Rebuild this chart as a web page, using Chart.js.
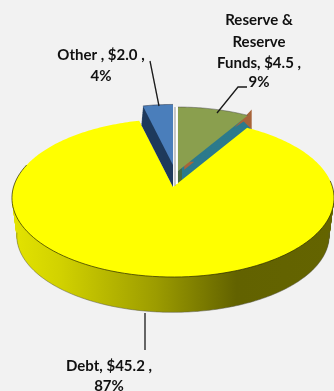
<!DOCTYPE html>
<html>
<head>
<meta charset="utf-8">
<style>
  html, body { margin: 0; padding: 0; background: #f2f2f2; }
  canvas { display: block; }
</style>
<script src="https://cdn.jsdelivr.net/npm/chart.js@4/dist/chart.umd.min.js"></script>
</head>
<body>
<canvas id="fundingChart" width="334" height="391"></canvas>
<script>
const categories = ["Reserve & Reserve Funds", "Debt", "Other"];
const amounts = [4.5, 45.2, 2.0];
const sliceColors = ["#8a9f4e", "#ffff00", "#4a7ebb"];
const wallColors = ["#2c7a8c", null, "#1f3a5c"];
const labelLines = [
    ["Reserve &", "Reserve", "Funds, $4.5 ,", "9%"],
    ["Debt, $45.2 ,", "87%"],
    ["Other , $2.0 ,", "4%"],
];

// slice placement on the tilted disc: apex, scale, and how far the wall runs
const placements = [
    { x: 178, y: 171, s: 0.94, dx: 4, dy: 14, ds: 0.0 },
    { x: 173, y: 187, s: 1.0, dx: 0, dy: 38, ds: -0.03 },
    { x: 173, y: 165, s: 0.89, dx: 0, dy: 22, ds: 0.05 },
];
const labelSpots = [
    { x: 259, y: [20, 42, 63, 82] },
    { x: 109, y: [366, 386] },
    { x: 101, y: [55, 76] },
];
const leaders = [
    [[247, 87], [238, 87], [217, 113]],
    [[145, 313], [145, 350]],
    [[150, 61], [159, 106]],
];

// perspective of the disc
const DISC_A = 159.5;
const DISC_B = 77.5;
const DISC_K = 0.139;

function project(angle, r, p) {
    const u = r * Math.cos(angle);
    const v = r * Math.sin(angle);
    const w = 1 - DISC_K * v;
    return {
        x: p.x + (DISC_A * p.s * u) / w,
        y: p.y + (DISC_B * p.s * v) / w,
    };
}

function tracePath(ctx, start, end, p) {
    const steps = Math.ceil(((end - start) * 180) / Math.PI);
    ctx.beginPath();
    ctx.moveTo(p.x, p.y);
    for (let i = 0; i <= steps; i++) {
        const pt = project(start + ((end - start) * i) / steps, 1, p);
        ctx.lineTo(pt.x, pt.y);
    }
    ctx.closePath();
}

function wallGradient(ctx) {
    const g = ctx.createLinearGradient(11, 0, 333, 0);
    g.addColorStop(0, "#e4e400");
    g.addColorStop(0.15, "#d2d200");
    g.addColorStop(0.45, "#9c9c00");
    g.addColorStop(0.7, "#626200");
    g.addColorStop(1, "#646400");
    return g;
}

function strokeArc(ctx, start, end, p, color) {
    const steps = 90;
    ctx.beginPath();
    for (let i = 0; i <= steps; i++) {
        const pt = project(start + ((end - start) * i) / steps, 1, p);
        if (i === 0) ctx.moveTo(pt.x, pt.y);
        else ctx.lineTo(pt.x, pt.y);
    }
    ctx.strokeStyle = color;
    ctx.lineWidth = 1;
    ctx.stroke();
}

function fillPoly(ctx, color, pts) {
    ctx.fillStyle = color;
    ctx.beginPath();
    pts.forEach((pt, i) => {
        if (i === 0) ctx.moveTo(pt.x, pt.y);
        else ctx.lineTo(pt.x, pt.y);
    });
    ctx.closePath();
    ctx.fill();
}

const pie3d = {
    id: "pie3d",
    beforeDatasetDraw(chart) {
        const ctx = chart.ctx;
        const arcs = chart.getDatasetMeta(0).data;
        ctx.save();

        // green goes first so the yellow edge trims its wall, blue sits in the notch
        [0, 1, 2].forEach((i) => {
            const arc = arcs[i];
            const place = placements[i];
            const fill = wallColors[i] || wallGradient(ctx);

            for (let d = place.dy; d > 0; d--) {
                const t = d / place.dy;
                const layer = {
                    x: place.x + place.dx * t,
                    y: place.y + d,
                    s: place.s + place.ds * t,
                };
                tracePath(ctx, arc.startAngle, arc.endAngle, layer);
                ctx.fillStyle = fill;
                ctx.fill();
            }

            if (i === 0) {
                // brown strips on the cut side of the green slice
                const cut = arc.endAngle;
                const outer = project(cut, 1, place);
                const mid = project(cut, 0.78, place);
                const inner = project(cut, 0.2, place);
                fillPoly(ctx, "#a8643a", [
                    { x: mid.x, y: mid.y + 2 },
                    { x: outer.x + 4, y: outer.y - 6 },
                    { x: outer.x + 4, y: outer.y + 14 },
                    { x: outer.x - 4, y: outer.y + 6 },
                    { x: outer.x - 13, y: outer.y + 12 },
                ]);
                fillPoly(ctx, "#a8643a", [
                    { x: inner.x + 1, y: inner.y + 3 },
                    { x: inner.x - 9, y: inner.y + 3 },
                    { x: inner.x - 9, y: inner.y + 11 },
                ]);
                fillPoly(ctx, "#4a6a40", [
                    { x: place.x, y: place.y },
                    { x: place.x + 4, y: place.y - 3 },
                    { x: place.x + 4, y: place.y + 12 },
                    { x: place.x, y: place.y + 15 },
                ]);
            }

            tracePath(ctx, arc.startAngle, arc.endAngle, place);
            ctx.fillStyle = sliceColors[i];
            ctx.fill();
        });

        // rim lines: front of the big slice and the far edge of the small ones
        const debt = placements[1];
        const debtBottom = {
            x: debt.x,
            y: debt.y + debt.dy,
            s: debt.s + debt.ds,
        };
        strokeArc(ctx, -0.08, Math.PI + 0.3, debt, "rgba(40,40,0,0.7)");
        strokeArc(ctx, 0.1, Math.PI - 0.1, debtBottom, "rgba(90,90,80,0.5)");
        strokeArc(ctx, arcs[0].startAngle, arcs[0].endAngle, placements[0], "rgba(70,70,70,0.5)");
        strokeArc(ctx, arcs[2].startAngle, arcs[2].endAngle, placements[2], "rgba(40,50,70,0.6)");

        // pale sliver in the gap between blue and green
        const green = placements[0];
        const top = project(arcs[0].startAngle, 1, green);
        ctx.strokeStyle = "#ffffff";
        ctx.lineWidth = 2;
        ctx.beginPath();
        ctx.moveTo(top.x - 1.5, top.y);
        ctx.lineTo(green.x - 1.5, green.y + 13);
        ctx.stroke();
        ctx.strokeStyle = "#9a9a9a";
        ctx.lineWidth = 1;
        ctx.beginPath();
        ctx.moveTo(top.x - 3, top.y);
        ctx.lineTo(green.x - 3, green.y + 15);
        ctx.stroke();

        ctx.restore();
        return false;
    },
    afterDatasetsDraw(chart) {
        const ctx = chart.ctx;
        ctx.save();

        ctx.strokeStyle = "#1a1a1a";
        ctx.lineWidth = 1.3;
        leaders.forEach((line) => {
            ctx.beginPath();
            line.forEach(([x, y], i) => {
                if (i === 0) ctx.moveTo(x, y);
                else ctx.lineTo(x, y);
            });
            ctx.stroke();
        });

        ctx.fillStyle = "#111111";
        ctx.font = "bold 15px Lato";
        ctx.textAlign = "center";
        ctx.textBaseline = "middle";
        labelLines.forEach((lines, i) => {
            lines.forEach((text, j) => {
                ctx.fillText(text, labelSpots[i].x, labelSpots[i].y[j]);
            });
        });
        ctx.restore();
    },
};

new Chart(document.getElementById("fundingChart"), {
    type: "pie",
    data: {
        labels: categories,
        datasets: [
            {
                data: amounts,
                backgroundColor: sliceColors,
                borderWidth: 0,
            },
        ],
    },
    options: {
        responsive: false,
        animation: false,
        plugins: {
            legend: { display: false },
            tooltip: { enabled: false },
        },
    },
    plugins: [pie3d],
});
</script>
</body>
</html>
